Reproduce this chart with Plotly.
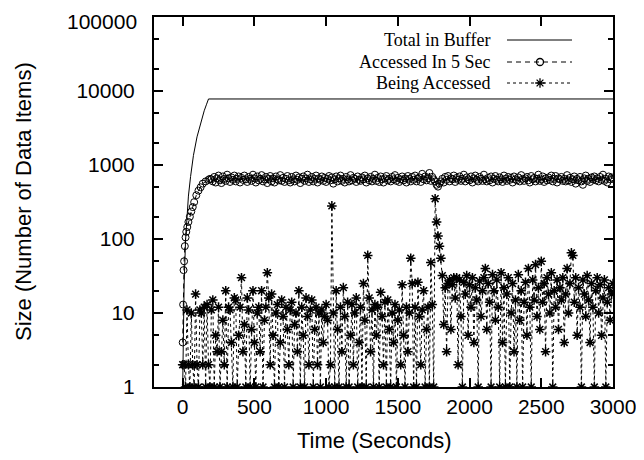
import plotly.graph_objects as go

# Total in Buffer (sampled along the curve)
time_total = [0, 5, 10, 20, 30, 40, 55, 75, 100, 125, 150, 165, 180, 3000]
total_in_buffer = [1, 6, 24, 96, 215, 380, 700, 1350, 2400, 3750, 5400, 6500, 7800, 7800]

# Accessed In 5 Sec: ramp-up, then plateau every 10 s from 200 to 3000
time_rise = [0, 3, 6, 10, 15, 20, 25, 32, 40, 50, 60, 70, 80, 95, 110, 125, 140, 160, 180, 190]
accessed_rise = [4, 13, 38, 50, 80, 105, 125, 145, 170, 200, 235, 270, 315, 390, 450, 500, 560, 600, 630, 650]
accessed_plateau = [
    640, 600, 690, 580, 660, 720, 620, 570, 700, 650,
    610, 740, 660, 590, 680, 630, 720, 600, 650, 700,
    580, 670, 630, 720, 640, 590, 690, 650, 610, 740,
    660, 580, 700, 620, 650, 730, 600, 640, 690, 570,
    650, 710, 600, 660, 580, 700, 640, 620, 730, 610,
    670, 590, 650, 710, 620, 580, 690, 640, 600, 720,
    630, 680, 570, 650, 700, 610, 660, 740, 590, 640,
    690, 600, 650, 720, 580, 660, 630, 700, 610, 670,
    590, 650, 710, 620, 680, 560, 640, 700, 600, 660,
    720, 610, 650, 580, 690, 640, 600, 730, 620, 670,
    650, 590, 700, 630, 610, 680, 640, 720, 580, 660,
    620, 690, 600, 650, 740, 610, 670, 590, 700, 640,
    580, 660, 710, 620, 650, 600, 690, 640, 730, 610,
    670, 590, 640, 700, 620, 660, 580, 710, 650, 600,
    690, 630, 720, 600, 650, 680, 590, 760, 640, 700,
    620, 660, 780, 610, 690, 640, 600, 540, 510, 560,
    600, 650, 580, 690, 630, 710, 600, 660, 640, 720,
    590, 670, 630, 700, 610, 650, 740, 600, 680, 640,
    620, 700, 580, 660, 720, 630, 600, 690, 650, 610,
    740, 640, 600, 670, 620, 700, 580, 650, 710, 630,
    600, 680, 640, 590, 720, 650, 610, 690, 630, 670,
    580, 700, 640, 620, 680, 600, 730, 650, 610, 660,
    690, 620, 580, 710, 640, 670, 600, 650, 740, 610,
    640, 700, 590, 660, 620, 680, 630, 720, 600, 650,
    710, 580, 660, 640, 690, 610, 650, 600, 730, 620,
    670, 590, 640, 700, 560, 650, 620, 690, 600, 540,
    660, 720, 610, 650, 590, 680, 640, 700, 620, 660,
    600, 690, 630, 740, 610, 650, 580, 700, 640, 680,
    650,
]

# Being Accessed, every 10 s from 0 to 3000
being_accessed = [
    2, 2, 1, 11, 2, 1, 10, 2, 1, 18,
    2, 1, 11, 10, 2, 12, 1, 13, 2, 1,
    11, 15, 1, 5, 3, 12, 1, 3, 8, 2,
    20, 1, 12, 11, 4, 1, 16, 15, 1, 5,
    12, 30, 3, 7, 1, 16, 11, 1, 6, 20,
    4, 1, 10, 12, 3, 20, 1, 8, 12, 35,
    16, 2, 18, 5, 1, 10, 13, 1, 4, 15,
    9, 1, 12, 6, 2, 11, 14, 1, 7, 10,
    3, 20, 1, 12, 5, 1, 16, 9, 2, 11,
    15, 1, 6, 12, 2, 10, 1, 11, 4, 9,
    13, 8, 1, 2, 280, 10, 1, 20, 6, 1,
    12, 3, 22, 9, 1, 14, 1, 5, 13, 2,
    10, 16, 1, 4, 12, 1, 25, 8, 1, 60,
    16, 3, 11, 1, 13, 5, 12, 1, 19, 9,
    2, 14, 1, 15, 6, 1, 10, 4, 13, 1,
    8, 11, 2, 24, 5, 1, 12, 3, 10, 55,
    25, 1, 12, 1, 26, 9, 2, 11, 20, 1,
    6, 12, 1, 48, 13, 1, 350, 170, 110, 80,
    55, 32, 7, 22, 3, 25, 28, 6, 24, 30,
    16, 30, 2, 28, 9, 1, 26, 18, 32, 5,
    24, 12, 30, 4, 22, 15, 1, 27, 9, 20,
    30, 40, 6, 25, 14, 1, 33, 20, 8, 28,
    12, 1, 35, 4, 22, 1, 18, 30, 1, 10,
    25, 3, 15, 1, 33, 8, 20, 1, 14, 26,
    5, 40, 12, 1, 28, 15, 45, 9, 22, 6,
    50, 14, 25, 3, 30, 18, 10, 35, 1, 20,
    12, 28, 6, 22, 15, 30, 4, 18, 40, 10,
    25, 65, 60, 14, 30, 5, 22, 12, 1, 28,
    18, 9, 32, 15, 4, 25, 12, 1, 20, 30,
    10, 24, 5, 16, 28, 1, 14, 22, 8, 18,
    25,
]

time_accessed = time_rise + list(range(200, 3001, 10))
accessed_5s = accessed_rise + accessed_plateau
time_being = list(range(0, 3001, 10))

x_ticks = [0, 500, 1000, 1500, 2000, 2500, 3000]
y_ticks = [1, 10, 100, 1000, 10000, 100000]
y_ticktext = ["1", "10", "100", "1000", "10000", "100000"]
y_minor = [m * 10 ** d for d in range(5) for m in (2, 5)]

legend_names = ["Total in Buffer", "Accessed In 5 Sec", "Being Accessed"]

SANS = "Liberation Sans, Arial, sans-serif"
SERIF = "Liberation Serif, Times New Roman, serif"

# plot area on the page (pixels); the page body adds an 8 px offset
PL, PR, PT, PB = 154, 613, 17, 387
OFF = 8


def px(x):
    return (x - PL) / (PR - PL)


def py(y):
    return (PB - y) / (PB - PT)


fig = go.Figure()
fig.add_trace(go.Scatter(x=time_total, y=total_in_buffer, mode="lines",
                         line=dict(color="black", width=1)))
fig.add_trace(go.Scatter(x=time_accessed, y=accessed_5s, mode="lines+markers",
                         line=dict(color="black", width=1, dash="5px,4px"),
                         marker=dict(symbol="circle-open", size=7, color="black",
                                     line=dict(width=1, color="black"))))
fig.add_trace(go.Scatter(x=time_being, y=being_accessed, mode="lines+markers",
                         line=dict(color="black", width=1, dash="3px,3px"),
                         marker=dict(symbol="asterisk-open", size=8, color="black",
                                     line=dict(width=1.5, color="black"))))

# gnuplot-style key: text on the left, sample on the right (pixel overlay axes)
key_rows = [40, 62, 83]
key_dash = ["solid", "5px,4px", "3px,3px"]
key_symbol = [None, "circle-open", "asterisk-open"]
key_size = [0, 7, 8]
for name, yk, dash, sym, sz in zip(legend_names, key_rows, key_dash, key_symbol, key_size):
    fig.add_trace(go.Scatter(x=[507, 572], y=[yk, yk], mode="lines",
                             line=dict(color="black", width=1, dash=dash),
                             xaxis="x2", yaxis="y2"))
    if sym:
        fig.add_trace(go.Scatter(x=[540], y=[yk], mode="markers",
                                 marker=dict(symbol=sym, size=sz, color="black",
                                             line=dict(width=1.3, color="black")),
                                 xaxis="x2", yaxis="y2"))
    fig.add_annotation(x=492, y=yk, xref="x2", yref="y2", text=name,
                       showarrow=False, xanchor="right", yanchor="middle",
                       font=dict(family=SERIF, size=18, color="black"))

fig.add_annotation(x=px(23), y=py(202), xref="paper", yref="paper",
                   text="Size (Number of Data Items)", textangle=-90,
                   showarrow=False, xanchor="center", yanchor="middle",
                   font=dict(family=SANS, size=22, color="black"))
fig.add_annotation(x=px(374), y=py(440), xref="paper", yref="paper",
                   text="Time (Seconds)", showarrow=False,
                   xanchor="center", yanchor="middle",
                   font=dict(family=SANS, size=22, color="black"))
# top tick label sits at the page edge, so it is placed a touch lower by hand
fig.add_annotation(x=px(139), y=py(21), xref="paper", yref="paper",
                   text=y_ticktext[-1], showarrow=False,
                   xanchor="right", yanchor="middle",
                   font=dict(family=SANS, size=21, color="black"))

axis_common = dict(showline=True, linecolor="black", linewidth=2, mirror="ticks",
                   ticks="inside", tickcolor="black", tickwidth=1.5,
                   showgrid=False, zeroline=False, automargin=False,
                   tickfont=dict(family=SANS, size=21, color="black"))

fig.update_layout(
    width=644 - OFF, height=460 - OFF,
    margin=dict(l=PL - OFF, r=644 - PR, t=PT - OFF, b=460 - PB, autoexpand=False),
    paper_bgcolor="white", plot_bgcolor="white",
    showlegend=False,
    xaxis=dict(range=[-200, 3000], tickvals=x_ticks, ticklen=9,
               ticklabelstandoff=0, **axis_common),
    yaxis=dict(type="log", range=[0, 5], tickvals=y_ticks,
               ticktext=y_ticktext[:-1] + [""],
               ticklen=9, ticklabelstandoff=13,
               minor=dict(tickmode="array", tickvals=y_minor, ticks="inside",
                          ticklen=5, tickwidth=1.5, tickcolor="black"),
               **axis_common),
    xaxis2=dict(overlaying="x", anchor="y2", range=[PL, PR], visible=False),
    yaxis2=dict(overlaying="y", anchor="x2", range=[PB, PT], visible=False),
)

fig.write_html("out.html")
